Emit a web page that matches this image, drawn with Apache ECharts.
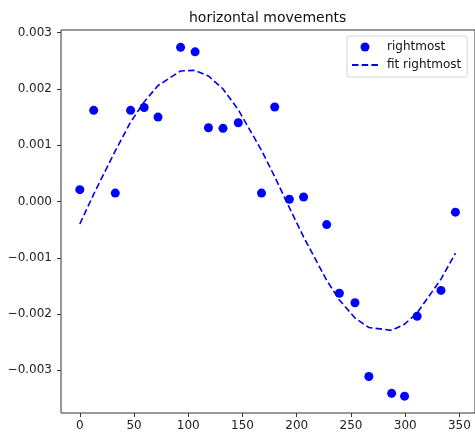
<!DOCTYPE html>
<html>
<head>
<meta charset="utf-8">
<script src="https://cdn.jsdelivr.net/npm/echarts@6/dist/echarts.min.js"></script>
<style>
  html, body { margin: 0; padding: 0; background: #fff; }
  #main { width: 475px; height: 435px; }
</style>
</head>
<body>
<div id="main"></div>
<script>
// measured positions (degrees) and horizontal movement of the rightmost point
var angles = [0, 12.8, 32.7, 46.8, 59.3, 72.1, 92.9, 106.3, 118.6, 132, 146.1, 167.5,
  179.7, 193.2, 206.3, 227.6, 239.3, 253.7, 266.5, 287.5, 299.4, 311, 333, 346.3];
var rightmost = [0.00021, 0.00162, 0.00015, 0.00162, 0.00167, 0.00150, 0.00274, 0.00266,
  0.00131, 0.00130, 0.00140, 0.00015, 0.00168, 0.00004, 0.00008, -0.00041, -0.00163,
  -0.00180, -0.00311, -0.00341, -0.00346, -0.00204, -0.00158, -0.00019];
// fitted curve, read at the same angles
var fitRightmost = [-0.00040, 0.00013, 0.00090, 0.00141, 0.00177, 0.00206, 0.00232, 0.00233,
  0.00223, 0.00200, 0.00163, 0.00091, 0.00044, -0.00011, -0.00063, -0.00140, -0.00175,
  -0.00207, -0.00224, -0.00229, -0.00218, -0.00198, -0.00138, -0.00092];
var xTicks = [0, 50, 100, 150, 200, 250, 300, 350];
var yTicks = [-0.003, -0.002, -0.001, 0, 0.001, 0.002, 0.003];

var chart = echarts.init(document.getElementById('main'));
var font = 'DejaVu Sans';

var option = {
  animation: false,
  backgroundColor: '#fff',
  title: {
    text: 'horizontal movements',
    left: 184,
    top: 6,
    textStyle: { fontFamily: font, fontSize: 14, fontWeight: 'normal', color: '#111' }
  },
  legend: {
    orient: 'vertical',
    left: 347,
    top: 36,
    padding: [4, 6, 5, 4],
    itemGap: 4,
    itemWidth: 26,
    itemHeight: 9,
    borderColor: '#d5d5d5',
    borderWidth: 1,
    borderRadius: 3,
    backgroundColor: 'rgba(255,255,255,0.8)',
    textStyle: { fontFamily: font, fontSize: 12, color: '#111', lineHeight: 14, padding: [0, 0, 0, 4] },
    data: [
      { name: 'rightmost', itemStyle: { opacity: 1 } },
      { name: 'fit rightmost', itemStyle: { color: 'rgba(0,0,0,0)', borderWidth: 0, opacity: 0 } }
    ]
  },
  grid: {
    left: 61,
    top: 30,
    width: 416,
    height: 383,
    show: true,
    borderColor: '#333',
    borderWidth: 1
  },
  xAxis: {
    type: 'value',
    min: -17.35,
    max: 364.35,
    axisLine: { show: false, onZero: false },
    splitLine: { show: false },
    axisTick: { show: true, length: 4, lineStyle: { color: '#333' }, customValues: xTicks },
    axisLabel: { customValues: xTicks, margin: 7, fontFamily: font, fontSize: 12, color: '#222' }
  },
  yAxis: {
    type: 'value',
    min: -0.003759,
    max: 0.003048,
    axisLine: { show: false, onZero: false },
    splitLine: { show: false },
    axisTick: { show: true, length: 4, lineStyle: { color: '#333' }, customValues: yTicks },
    axisLabel: {
      customValues: yTicks,
      margin: 9,
      fontFamily: font,
      fontSize: 12,
      color: '#222',
      formatter: function (v) {
        var s = Math.abs(v).toFixed(3);
        return v < -1e-9 ? '\u2212' + s : s;
      }
    }
  },
  series: [
    {
      name: 'rightmost',
      type: 'scatter',
      symbol: 'circle',
      symbolSize: 9,
      itemStyle: { color: '#0000ff', opacity: 1 },
      data: angles.map(function (a, i) { return [a, rightmost[i]]; })
    },
    {
      name: 'fit rightmost',
      type: 'line',
      symbol: 'none',
      lineStyle: { color: '#0000ee', width: 1.6, type: [6.5, 3.2] },
      itemStyle: { color: '#0000ff' },
      data: angles.map(function (a, i) { return [a, fitRightmost[i]]; })
    }
  ]
};
chart.setOption(option);
window.addEventListener('resize', function () { chart.resize(); });
</script>
</body>
</html>
